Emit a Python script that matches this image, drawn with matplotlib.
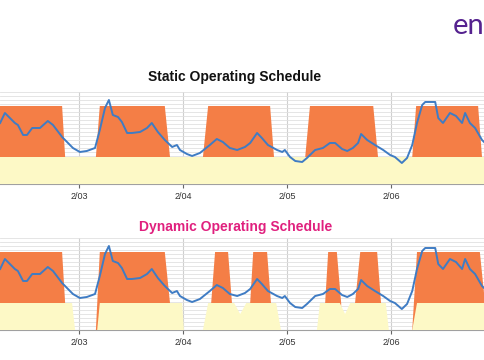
import numpy as np
import matplotlib
matplotlib.use("Agg")
import matplotlib.pyplot as plt

# time axis: hours from 2/03 00:00
day_ticks = [0, 24, 48, 72]
day_labels = ["2/03", "2/04", "2/05", "2/06"]

# setpoint levels (chart units)
base_level = 27
peak_level = 78

# measured temperature-like series (same in both panels)
temp_hours = [-18.2, -17.1, -14.8, -14.1, -12.9, -12.0, -10.8, -9.0, -7.2, -6.0,
              -3.9, -1.4, 0.2, 1.8, 3.7, 4.8, 6.0, 6.9, 7.8, 9.0,
              9.9, 11.1, 12.2, 14.1, 15.7, 16.8, 18.2, 19.8, 21.5, 22.6,
              23.3, 24.9, 26.1, 27.9, 30.2, 31.8, 33.2, 34.8, 36.5, 38.3,
              39.5, 41.1, 42.2, 43.6, 45.7, 46.9, 47.5, 48.7, 49.9, 51.5,
              52.6, 54.5, 56.3, 57.9, 59.1, 60.7, 61.9, 63.2, 64.4, 65.1,
              66.5, 68.3, 70.2, 71.8, 72.9, 74.5, 75.7, 76.9, 78.0, 79.2,
              79.9, 82.2, 82.9, 84.0, 85.6, 87.0, 88.4, 89.1, 90.2, 91.4,
              93.0, 93.7]
temp_values = [61, 71, 61, 59, 49, 49, 56, 56, 63, 59,
               47, 36, 32, 33, 36, 54, 76, 84, 69, 67,
               62, 51, 51, 52, 56, 61, 52, 44, 37, 39,
               34, 30, 28, 31, 39, 45, 42, 36, 34, 37,
               41, 51, 46, 39, 34, 32, 34, 27, 23, 22,
               26, 34, 36, 41, 41, 35, 33, 36, 41, 50,
               44, 39, 34, 29, 27, 21, 26, 39, 61, 79,
               82, 82, 66, 61, 71, 68, 61, 71, 61, 56,
               44, 41]

# occupied blocks: (start at bottom, start at top, end at top, end at bottom)
static_blocks = [(-30, -30, -3.9, -3.2), (3.9, 4.8, 19.8, 21.0),
                 (28.6, 29.8, 44.1, 45.0), (52.2, 53.3, 67.9, 69.0),
                 (76.9, 77.8, 92.1, 93.0)]
dynamic_blocks = [(-30, -30, -3.9, -3.2), (3.9, 4.8, 19.8, 21.0),
                  (30.5, 31.4, 34.4, 35.3), (39.5, 40.2, 43.4, 44.3),
                  (56.8, 57.5, 59.5, 60.5), (63.7, 64.9, 68.8, 69.7),
                  (76.9, 78.0, 92.5, 93.7)]
# blocks that ramp up from zero (no standby before them)
dynamic_cold_start = [False, True, False, False, False, False, True]

# standby band outline
static_standby_t = [-30, 100]
static_standby_v = [27, 27]
dynamic_standby_t = [-30, -1.6, -0.9, 4.2, 4.8, 23.8, 24.2, 28.6, 29.8, 35.8,
                     37.2, 38.6, 45.5, 46.6, 54.9, 55.6, 60.2, 61.4, 62.6, 70.8,
                     71.5, 76.9, 78.0, 100]
dynamic_standby_v = [27, 27, 0, 0, 27, 27, 0, 0, 27, 27,
                     16, 27, 27, 0, 0, 27, 27, 16, 27, 27,
                     0, 0, 27, 27]

ORANGE = "#f47e46"
YELLOW = "#fdf9c6"
BLUE = "#3f7cc4"


def draw_panel(ax, blocks, cold, standby_t, standby_v):
    for blk, c in zip(blocks, cold):
        bl, tl, tr, br = blk
        if c:
            xs = [bl, tl, tr, br, br]
            ys = [0, peak_level, peak_level, base_level, 0]
        else:
            xs = [bl, bl, tl, tr, br, br]
            ys = [0, base_level, peak_level, peak_level, base_level, 0]
        ax.fill(xs, ys, color=ORANGE, lw=0, zorder=2)
    ax.fill_between(standby_t, 0, standby_v, color=YELLOW, lw=0, zorder=3)
    ax.plot(temp_hours, temp_values, color=BLUE, lw=1.4, zorder=5)

    ax.set_xlim(-18.23, 93.69)
    ax.set_ylim(0, 92)
    ax.set_yticks(np.arange(0, 93, 4))
    ax.set_xticks(day_ticks)
    ax.set_xticklabels(day_labels)
    ax.grid(axis="y", color="#e0e0e0", lw=0.6, zorder=0)
    ax.grid(axis="x", color="#cfcfcf", lw=0.8, zorder=0)
    ax.set_axisbelow(True)
    for s in ["top", "left", "right"]:
        ax.spines[s].set_visible(False)
    ax.spines["bottom"].set_color("#a0a0a0")
    ax.spines["bottom"].set_linewidth(0.8)
    ax.tick_params(axis="y", left=False, labelleft=False)
    ax.tick_params(axis="x", length=3, width=0.8, color="#666666", pad=3,
                   labelsize=6.5, labelcolor="#333333")


fig = plt.figure(figsize=(4.85, 3.6), dpi=100)
plt.rcParams["font.family"] = ["Liberation Sans", "DejaVu Sans"]

ax1 = fig.add_axes([0, 0.4889, 1, 0.2556])
ax2 = fig.add_axes([0, 0.0833, 1, 0.2556])

draw_panel(ax1, static_blocks, [False] * len(static_blocks),
           static_standby_t, static_standby_v)
draw_panel(ax2, dynamic_blocks, dynamic_cold_start,
           dynamic_standby_t, dynamic_standby_v)

fig.text(0.484, 0.785, "Static Operating Schedule", ha="center", va="center",
         fontsize=10, fontweight="bold", color="#111111")
fig.text(0.485, 0.370, "Dynamic Operating Schedule", ha="center", va="center",
         fontsize=10, fontweight="bold", color="#e0207e")

# logo (only its first letters are inside the screenshot)
fig.text(0.998, 0.928, "en", ha="right", va="center", fontsize=21,
         family="Lato", color="#55228f")

fig.savefig("out.png", dpi=100)
